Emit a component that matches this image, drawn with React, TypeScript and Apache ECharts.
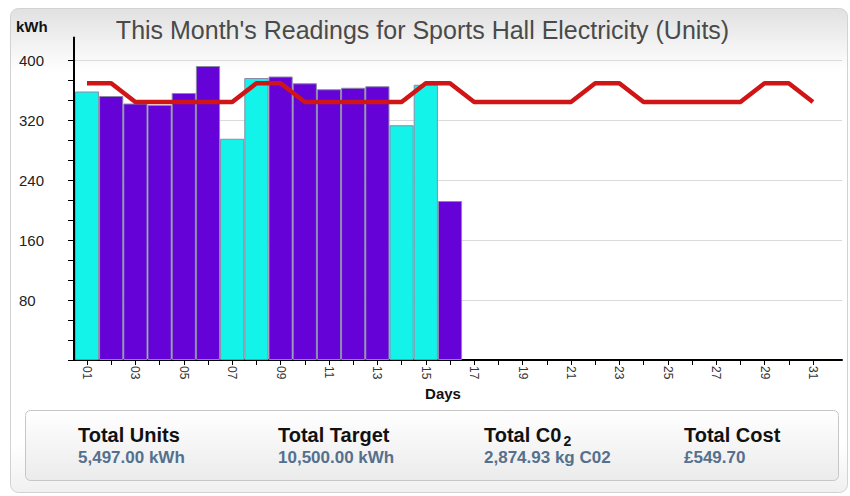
import React, { useEffect, useRef } from "react";
import * as echarts from "echarts";

const days = [1, 2, 3, 4, 5, 6, 7, 8, 9, 10, 11, 12, 13, 14, 15, 16, 17, 18, 19, 20, 21, 22, 23, 24, 25, 26, 27, 28, 29, 30, 31];
const labelDays = [1, 3, 5, 7, 9, 11, 13, 15, 17, 19, 21, 23, 25, 27, 29, 31];
const unitDays = [1, 2, 3, 4, 5, 6, 7, 8, 9, 10, 11, 12, 13, 14, 15, 16];
const units = [358, 352, 342, 340, 356, 392, 295, 376, 378, 369, 361, 363, 365, 313, 367, 212];
const weekendDays = [1, 7, 8, 14, 15];
const target = [369, 369, 344, 344, 344, 344, 344, 369, 369, 344, 344, 344, 344, 344, 369, 369, 344, 344, 344, 344, 344, 369, 369, 344, 344, 344, 344, 344, 369, 369, 344];
const yLabelValues = [80, 160, 240, 320, 400];

const chartTitle = "This Month's Readings for Sports Hall Electricity (Units)";
const yAxisTitle = "kWh";
const xAxisTitle = "Days";
const summaryLabels = ["Total Units", "Total Target", "Total C0", "Total Cost"];
const summaryValues = ["5,497.00 kWh", "10,500.00 kWh", "2,874.93 kg C02", "£549.70"];

const FONT = "'Liberation Sans', Arial, sans-serif";

export default function App() {
  const ref = useRef<HTMLDivElement>(null);

  useEffect(() => {
    if (!ref.current) return;
    const chart = echarts.init(ref.current, undefined, { renderer: "svg" });

    const barData = unitDays.map((d, i) => ({
      value: [d, units[i]],
      itemStyle: { color: weekendDays.includes(d) ? "#14f3ea" : "#6402d8" },
    }));
    const lineData = days.map((d, i) => [d, target[i]]);
    // y tick marks: every third of the 80-unit label step, from 0 up to the top label
    const yTickValues: number[] = [];
    for (let i = 0; i <= 15; i++) yTickValues.push((i * 80) / 3);

    const summaryX = [78, 278, 484, 684];
    const summaryGraphics: any[] = [];
    summaryLabels.forEach((lab, i) => {
      summaryGraphics.push({
        type: "text",
        x: summaryX[i],
        y: 435,
        z: 100,
        style: {
          text: lab,
          font: `bold 20px ${FONT}`,
          fill: "#111111",
          align: "left",
          verticalAlign: "middle",
        },
      });
      summaryGraphics.push({
        type: "text",
        x: summaryX[i],
        y: 457,
        z: 100,
        style: {
          text: summaryValues[i],
          font: `bold 17px ${FONT}`,
          fill: "#55708e",
          align: "left",
          verticalAlign: "middle",
        },
      });
    });
    summaryGraphics.push({
      type: "text",
      x: 563.5,
      y: 441,
      z: 100,
      style: {
        text: "2",
        font: `bold 14px ${FONT}`,
        fill: "#111111",
        align: "left",
        verticalAlign: "middle",
      },
    });

    const option: any = {
      animation: false,
      backgroundColor: "#ffffff",
      graphic: [
        {
          type: "rect",
          z: -10,
          shape: { x: 10.5, y: 8.5, width: 837, height: 484, r: 8 },
          style: {
            fill: new echarts.graphic.LinearGradient(0, 0, 0, 1, [
              { offset: 0, color: "#e1e1e1" },
              { offset: 0.13, color: "#ffffff" },
              { offset: 0.9, color: "#ffffff" },
              { offset: 1, color: "#f0f0f0" },
            ]),
            stroke: "#d2d2d2",
            lineWidth: 1,
          },
        },
        {
          type: "rect",
          z: -9,
          shape: { x: 25.5, y: 410.5, width: 813, height: 70, r: 5 },
          style: {
            fill: new echarts.graphic.LinearGradient(0, 0, 0, 1, [
              { offset: 0, color: "#ffffff" },
              { offset: 1, color: "#ebebeb" },
            ]),
            stroke: "#c6c6c6",
            lineWidth: 1,
          },
        },
        {
          type: "text",
          x: 422.5,
          y: 30,
          z: 100,
          style: {
            text: chartTitle,
            font: `25px ${FONT}`,
            fill: "#4a4a4a",
            align: "center",
            verticalAlign: "middle",
          },
        },
        {
          type: "text",
          x: 16,
          y: 26,
          z: 100,
          style: {
            text: yAxisTitle,
            font: `bold 15px ${FONT}`,
            fill: "#111111",
            align: "left",
            verticalAlign: "middle",
          },
        },
        {
          type: "text",
          x: 443,
          y: 393,
          z: 100,
          style: {
            text: xAxisTitle,
            font: `bold 15px ${FONT}`,
            fill: "#111111",
            align: "center",
            verticalAlign: "middle",
          },
        },
        ...summaryGraphics,
      ],
      grid: { left: 74, right: 8, top: 37.5, bottom: 136, containLabel: false },
      xAxis: {
        type: "value",
        min: 0.463,
        max: 32.2,
        axisLine: { show: true, onZero: false, lineStyle: { color: "#000000", width: 2 } },
        axisTick: { show: true, customValues: days, length: 5, lineStyle: { color: "#000000", width: 1 } },
        axisLabel: {
          show: true,
          customValues: labelDays,
          rotate: -90,
          margin: 6,
          fontSize: 12,
          fontFamily: FONT,
          color: "#333333",
          formatter: (v: number) => String(v).padStart(2, "0"),
        },
        splitLine: { show: false },
      },
      yAxis: [
        {
          type: "value",
          min: 0,
          max: 430,
          interval: 80,
          z: 3,
          axisLine: { show: true, lineStyle: { color: "#000000", width: 2 } },
          axisTick: { show: true, customValues: yTickValues, length: 6, lineStyle: { color: "#000000", width: 1 } },
          minorTick: { show: false },
          axisLabel: {
            show: true,
            customValues: yLabelValues,
            align: "left",
            margin: 55,
            fontSize: 15,
            fontFamily: FONT,
            color: "#222222",
            formatter: (v: number) => String(v),
          },
          splitLine: { show: false },
        },
        {
          type: "value",
          position: "left",
          min: 0,
          max: 430,
          interval: 80,
          axisLine: { show: false },
          axisTick: { show: false },
          axisLabel: { show: false },
          splitLine: { show: true, showMaxLine: false, showMinLine: false, lineStyle: { color: "#dadada", width: 1 } },
        },
      ],
      series: [
        {
          type: "bar",
          name: "Units",
          data: barData,
          barWidth: 24.2,
          itemStyle: { borderColor: "#8a8aa6", borderWidth: 1 },
        },
        {
          type: "line",
          name: "Target",
          data: lineData,
          symbol: "none",
          showSymbol: false,
          lineStyle: { color: "#cf1515", width: 4.5 },
          z: 5,
        },
      ],
    };

    chart.setOption(option);
    return () => {
      chart.dispose();
    };
  }, []);

  return (
    <div
      ref={ref}
      style={{ position: "fixed", left: 0, top: 0, width: 850, height: 496 }}
    />
  );
}
